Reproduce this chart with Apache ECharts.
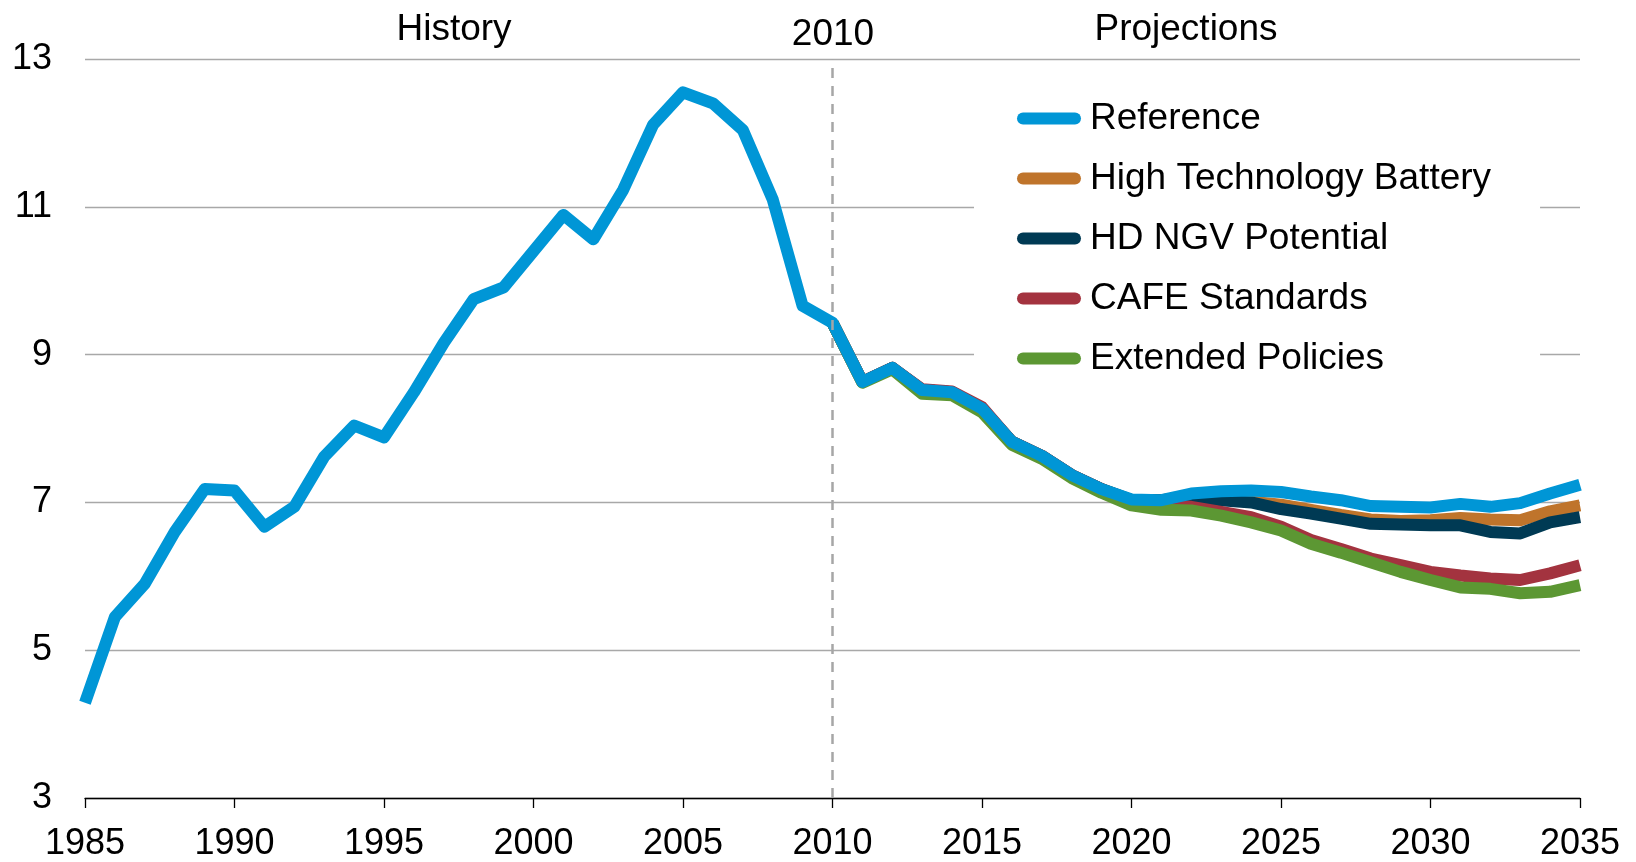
<!DOCTYPE html>
<html>
<head>
<meta charset="utf-8">
<title>Fuel use</title>
<script src="https://cdn.jsdelivr.net/npm/echarts@6/dist/echarts.min.js"></script>
<style>
    html, body { margin: 0; padding: 0; background: #fff; }
    #main { width: 1636px; height: 862px; }
</style>
</head>
<body>
<div id="main"></div>
<script>
// years on the x axis
var years = [];
for (var y = 1985; y <= 2035; y++) {
    years.push(y);
}
var projYears = years.slice(25); // 2010 - 2035

var xTicks = [1985, 1990, 1995, 2000, 2005, 2010, 2015, 2020, 2025, 2030, 2035];
var yTicks = [3, 5, 7, 9, 11, 13];

// Reference, 1985 - 2035
var reference = [4.29, 5.45, 5.90, 6.60, 7.18, 7.16, 6.67, 6.94, 7.62, 8.04,
    7.88, 8.49, 9.16, 9.75, 9.91, 10.40, 10.89, 10.56, 11.23, 12.11,
    12.55, 12.40, 12.04, 11.10, 9.66, 9.43, 8.63, 8.82, 8.52, 8.49,
    8.27, 7.82, 7.63, 7.37, 7.18, 7.04, 7.03, 7.12, 7.15, 7.16,
    7.14, 7.08, 7.03, 6.95, 6.94, 6.93, 6.98, 6.94, 6.99, 7.12, 7.24];

// side cases, 2010 - 2035
var highTechBattery = [9.43, 8.63, 8.82, 8.52, 8.49, 8.27, 7.82, 7.63, 7.37, 7.18,
    7.03, 7.03, 7.08, 7.05, 7.01, 6.97, 6.90, 6.83, 6.77, 6.75,
    6.76, 6.79, 6.77, 6.76, 6.88, 6.96];
var hdNgvPotential = [9.43, 8.63, 8.82, 8.52, 8.49, 8.27, 7.82, 7.63, 7.37, 7.18,
    7.03, 7.03, 7.07, 7.03, 7.00, 6.91, 6.85, 6.78, 6.71, 6.70,
    6.69, 6.69, 6.60, 6.58, 6.73, 6.80];
var cafeStandards = [9.43, 8.63, 8.82, 8.53, 8.50, 8.29, 7.82, 7.63, 7.37, 7.18,
    6.99, 6.96, 6.94, 6.87, 6.80, 6.67, 6.49, 6.37, 6.24, 6.15,
    6.06, 6.01, 5.97, 5.95, 6.04, 6.15];
var extendedPolicies = [9.43, 8.62, 8.80, 8.47, 8.45, 8.22, 7.78, 7.59, 7.33, 7.13,
    6.96, 6.90, 6.89, 6.82, 6.73, 6.62, 6.44, 6.32, 6.19, 6.06,
    5.95, 5.85, 5.83, 5.77, 5.79, 5.88];

function pairs(xs, vs) {
    var out = [];
    for (var i = 0; i < vs.length; i++) {
        out.push([xs[i], vs[i]]);
    }
    return out;
}

var FONT = 'Liberation Sans';
var capsule = 'path://M6,0H58A6,6,0,0,1,58,12H6A6,6,0,0,1,6,0Z';

function lineSeries(name, color, data) {
    return {
        name: name,
        type: 'line',
        data: data,
        symbol: 'none',
        color: color,
        lineStyle: { width: 12, color: color, join: 'round', cap: 'butt' }
    };
}

var myChart = echarts.init(document.getElementById('main'));

var refSeries = lineSeries('Reference', '#0096d6', pairs(years, reference));
refSeries.markLine = {
    silent: true,
    symbol: 'none',
    label: { show: false },
    lineStyle: { color: '#a6a6a6', type: [10, 8], width: 2.5 },
    data: [{ xAxis: 2010 }]
};

var option = {
    animation: false,
    textStyle: { fontFamily: FONT },
    grid: { left: 85, right: 56, top: 59, bottom: 62 },
    legend: {
        orient: 'vertical',
        left: 974,
        top: 77,
        padding: [23, 49, 10, 43],
        backgroundColor: '#fff',
        itemWidth: 64,
        itemHeight: 12,
        itemGap: 23,
        icon: capsule,
        data: ['Reference', 'High Technology Battery', 'HD NGV Potential', 'CAFE Standards', 'Extended Policies'],
        textStyle: { fontSize: 37, color: '#000', fontFamily: FONT, lineHeight: 37, padding: [0, 0, 0, 4] }
    },
    xAxis: {
        type: 'value',
        min: xTicks[0],
        max: xTicks[xTicks.length - 1],
        interval: 5,
        axisLine: { lineStyle: { color: '#000', width: 1.3 } },
        axisTick: { show: true, length: 10, lineStyle: { color: '#000', width: 1.3 } },
        splitLine: { show: false },
        axisLabel: {
            fontSize: 36, color: '#000', margin: 28, fontFamily: FONT,
            formatter: function (v) { return String(v); }
        }
    },
    yAxis: {
        type: 'value',
        min: yTicks[0],
        max: yTicks[yTicks.length - 1],
        interval: 2,
        axisLine: { show: false },
        axisTick: { show: false },
        splitLine: { lineStyle: { color: '#a8a8a8', width: 1.3 } },
        axisLabel: { fontSize: 36, color: '#000', margin: 33, fontFamily: FONT }
    },
    graphic: [
        { type: 'text', x: 454, y: 30, style: { text: 'History', fontSize: 37, fontFamily: FONT, fill: '#000', align: 'center', verticalAlign: 'middle' } },
        { type: 'text', x: 833, y: 35, style: { text: '2010', fontSize: 37, fontFamily: FONT, fill: '#000', align: 'center', verticalAlign: 'middle' } },
        { type: 'text', x: 1186, y: 30, style: { text: 'Projections', fontSize: 37, fontFamily: FONT, fill: '#000', align: 'center', verticalAlign: 'middle' } }
    ],
    // draw order: side cases first, reference on top
    series: [
        lineSeries('High Technology Battery', '#bf742b', pairs(projYears, highTechBattery)),
        lineSeries('HD NGV Potential', '#003a54', pairs(projYears, hdNgvPotential)),
        lineSeries('CAFE Standards', '#a3333f', pairs(projYears, cafeStandards)),
        lineSeries('Extended Policies', '#5c9733', pairs(projYears, extendedPolicies)),
        refSeries
    ]
};

myChart.setOption(option);
</script>
</body>
</html>
